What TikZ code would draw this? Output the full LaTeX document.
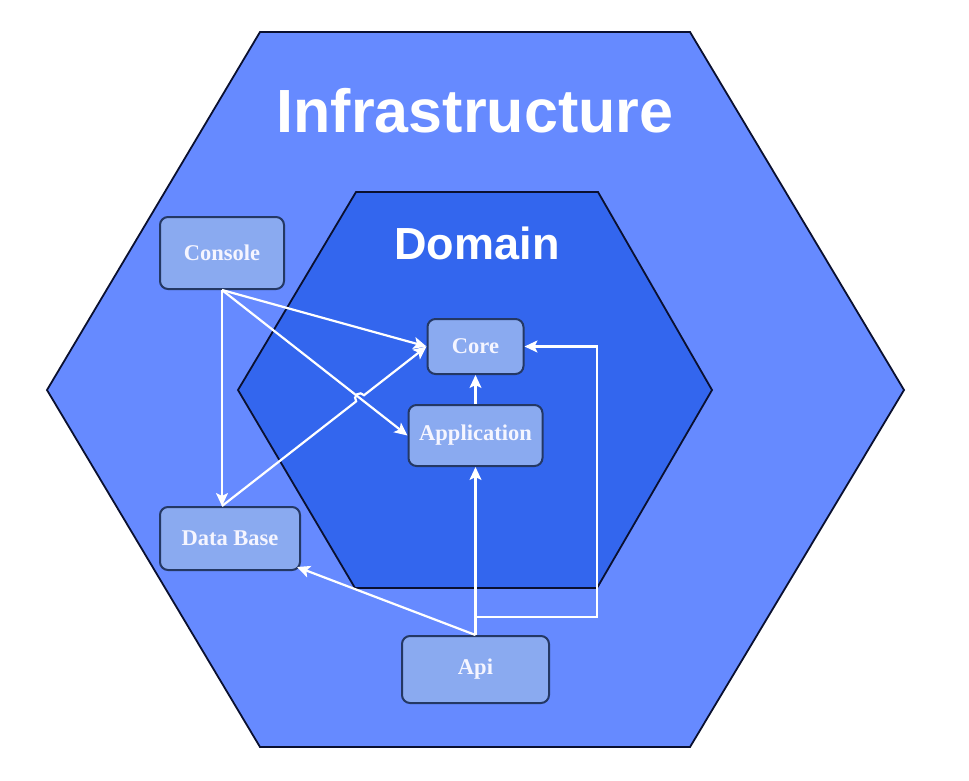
\documentclass[tikz,border=0pt]{standalone}
\usepackage{fontspec}
\setmainfont{Liberation Serif}
\newfontfamily\titlefont{Liberation Sans}
\usetikzlibrary{arrows.meta,calc,intersections}
\definecolor{outerblue}{RGB}{102,138,255}
\definecolor{innerblue}{RGB}{51,102,238}
\definecolor{boxblue}{RGB}{138,170,240}
\definecolor{boxline}{RGB}{36,56,100}
\definecolor{hexline}{RGB}{10,16,48}
\definecolor{boxtext}{RGB}{245,245,255}
\tikzset{
  hexshape/.style={draw=hexline,line width=1.8pt,line join=miter},
  compbox/.style={draw=boxline,line width=2pt,fill=boxblue,rounded corners=8pt,
    text=boxtext,font=\bfseries\fontsize{22.5}{24}\selectfont,inner sep=0pt},
  title/.style={text=white,font=\titlefont\bfseries,anchor=base,inner sep=0pt},
  arr/.style={draw=white,line width=2.2pt,-{Stealth[length=13pt,width=12pt,inset=3pt]}},
}
\begin{document}
\begin{tikzpicture}[x=1pt,y=-1pt]
\useasboundingbox (0,0) rectangle (969,781);
% hexagons
\draw[hexshape,fill=outerblue] (260,32) -- (690,32) -- (904,390) -- (690,747) -- (260,747) -- (47,390) -- cycle;
\draw[hexshape,fill=innerblue] (356,192) -- (598,192) -- (712,390) -- (597,588) -- (355,588) -- (238,390) -- cycle;
% titles
\node[title,font=\titlefont\bfseries\fontsize{61}{64}\selectfont] (infra) at (475,132) {Infrastructure};
\node[title,font=\titlefont\bfseries\fontsize{45}{48}\selectfont] (domain) at (477,259) {Domain};
% boxes
\node[compbox,minimum width=124pt,minimum height=72pt] (console) at (222,253) {Console};
\node[compbox,minimum width=96pt,minimum height=55pt] (core) at (475.5,346.5) {Core};
\node[compbox,minimum width=134pt,minimum height=61pt] (app) at (475.5,435.5) {Application};
\node[compbox,minimum width=140pt,minimum height=63pt] (db) at (230,538.5) {Data Base};
\node[compbox,minimum width=147pt,minimum height=67pt] (api) at (475.5,669.5) {Api};
% connectors
\coordinate (dbtop) at (console.south |- db.north);
\coordinate (route) at (597,617);
\draw[arr] (console.south) -- (core.west);
\draw[arr] (console.south) -- (dbtop);
\path[name path=ca] (console.south) -- (app.west);
\draw[arr] (console.south) -- (app.west);
\path[name path=dc] (dbtop) -- (core.west);
\path[name intersections={of=ca and dc,by=X}];
\draw[arr] (dbtop) -- ($(X)!5pt!(dbtop)$) arc[start angle=218,end angle=38,radius=5pt] -- (core.west);
\draw[arr] (app.north) -- (core.south);
\draw[arr] (api.north) -- (app.south);
\draw[arr] (api.north) -- ($(db.south east)+(-4,-4)$);
\draw[arr] (api.north) |- (route) |- (core.east);
\end{tikzpicture}
\end{document}
